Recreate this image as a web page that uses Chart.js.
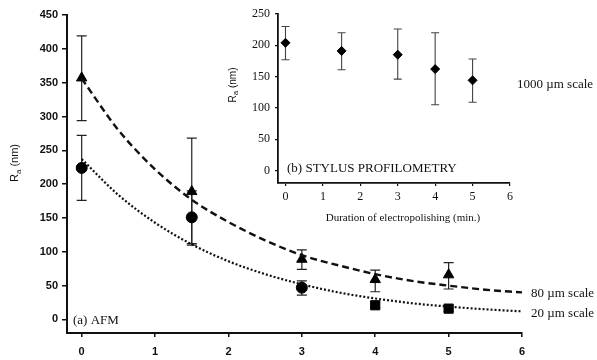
<!DOCTYPE html>
<html>
<head>
<meta charset="utf-8">
<script src="https://cdn.jsdelivr.net/npm/chart.js@4.4.0/dist/chart.umd.min.js"></script>
<style>
  body { margin: 0; background: #fff; }
  #wrap { position: relative; width: 597px; height: 360px; }
  #main { position: absolute; left: 0; top: 0; }
  #inset { position: absolute; left: 225px; top: 0; }
</style>
</head>
<body>
<div id="wrap">
  <canvas id="main" width="597" height="360"></canvas>
  <canvas id="inset" width="372" height="230"></canvas>
</div>
<script>
// (a) AFM - measured points
const afmTimes = [0, 1.5, 3, 4, 5];
const afm80 = [357, 189, 89, 59, 66];
const afm80Lo = [294, 110, 74, 41, 45];
const afm80Hi = [419, 268, 103, 73, 84];
const afm20 = [224, 151, 47, 21, 16];
const afm20Lo = [176, 112, 36, 17, 12];
const afm20Hi = [272, 190, 57, 25, 20];

// fitted curves
const fitX = [0, 0.5, 1, 1.5, 2, 2.5, 3, 3.5, 4, 4.5, 5, 5.5, 6];
const fit80 = [356, 280, 222, 177, 144, 117, 95, 80, 67, 57, 50, 44, 40];
const fit20 = [237, 184, 143, 111, 86, 67, 52, 40, 31, 24, 19, 15, 12];

// (b) stylus profilometry
const profTimes = [0, 1.5, 3, 4, 5];
const prof1000 = [204, 191, 185, 162, 144];
const profLo = [177, 161, 146, 105, 109];
const profHi = [230, 220, 226, 220, 178];

const mainXTicks = [0, 1, 2, 3, 4, 5, 6];
const mainYTicks = [0, 50, 100, 150, 200, 250, 300, 350, 400, 450];
const insetXTicks = [0, 1, 2, 3, 4, 5, 6];
const insetYTicks = [0, 50, 100, 150, 200, 250];

const pts = (xs, ys) => xs.map((x, i) => ({ x: x, y: ys[i] }));

// error bars drawn behind the markers
const errorBars = {
  id: 'errorBars',
  beforeDatasetsDraw(chart, args, opts) {
    const ctx = chart.ctx;
    const xs = chart.scales.x, ys = chart.scales.y;
    chart.data.datasets.forEach(ds => {
      if (!ds.errLo) return;
      ctx.save();
      ctx.strokeStyle = opts.color;
      ctx.lineWidth = opts.width;
      ds.data.forEach((p, i) => {
        const x = xs.getPixelForValue(p.x);
        const lo = ys.getPixelForValue(ds.errLo[i]);
        const hi = ys.getPixelForValue(ds.errHi[i]);
        ctx.beginPath();
        ctx.moveTo(x, lo); ctx.lineTo(x, hi);
        ctx.moveTo(x - opts.cap, lo); ctx.lineTo(x + opts.cap, lo);
        ctx.moveTo(x - opts.cap, hi); ctx.lineTo(x + opts.cap, hi);
        ctx.stroke();
      });
      ctx.restore();
    });
  }
};

// y-title with subscript a
function drawRa(ctx, cx, cy, size) {
  ctx.save();
  ctx.translate(cx, cy);
  ctx.rotate(-Math.PI / 2);
  ctx.fillStyle = '#111';
  ctx.textBaseline = 'middle';
  const big = size + 'px "Liberation Sans", Arial, sans-serif';
  const small = Math.round(size * 0.75) + 'px "Liberation Sans", Arial, sans-serif';
  ctx.font = big;
  const wR = ctx.measureText('R').width, wN = ctx.measureText(' (nm)').width;
  ctx.font = small;
  const wA = ctx.measureText('a').width;
  let x = -(wR + wA + wN) / 2;
  ctx.font = big; ctx.fillText('R', x, 0); x += wR;
  ctx.font = small; ctx.fillText('a', x, size * 0.3); x += wA;
  ctx.font = big; ctx.fillText(' (nm)', x, 0);
  ctx.restore();
}

const mainText = {
  id: 'mainText',
  afterDraw(chart) {
    const ctx = chart.ctx;
    const xs = chart.scales.x, ys = chart.scales.y;
    ctx.save();
    ctx.fillStyle = '#111';
    ctx.textBaseline = 'middle';
    ctx.font = '13px "Liberation Serif", "Times New Roman", serif';
    ctx.fillText('80 \u00b5m scale', xs.getPixelForValue(6) + 9, ys.getPixelForValue(fit80[fit80.length - 1]) + 1);
    ctx.fillText('20 \u00b5m scale', xs.getPixelForValue(6) + 9, ys.getPixelForValue(fit20[fit20.length - 1]) + 2);
    ctx.fillText('(a) AFM', 73, 321);
    ctx.restore();
    drawRa(ctx, 15, 163, 11);
  }
};

const insetText = {
  id: 'insetText',
  afterDraw(chart) {
    const ctx = chart.ctx;
    ctx.save();
    ctx.fillStyle = '#111';
    ctx.textBaseline = 'middle';
    ctx.font = '13px "Liberation Serif", "Times New Roman", serif';
    ctx.fillText('(b) STYLUS PROFILOMETRY', 62, 169);
    ctx.fillText('1000 \u00b5m scale', 292, 85);
    ctx.font = '11px "Liberation Serif", "Times New Roman", serif';
    ctx.textAlign = 'center';
    ctx.fillText('Duration of electropolishing (min.)', 178, 218);
    ctx.restore();
    drawRa(ctx, 8, 85, 10);
  }
};

const fixTicks = list => scale => { scale.ticks = list.map(v => ({ value: v })); };

new Chart(document.getElementById('main'), {
  type: 'scatter',
  data: {
    datasets: [
      {
        data: pts(fitX, fit80), showLine: true, pointRadius: 0,
        borderColor: '#111', borderWidth: 2.4, borderDash: [7, 4],
        cubicInterpolationMode: 'monotone'
      },
      {
        data: pts(fitX, fit20), showLine: true, pointRadius: 0,
        borderColor: '#111', borderWidth: 2.2, borderDash: [2, 2],
        cubicInterpolationMode: 'monotone'
      },
      {
        data: pts(afmTimes, afm80), errLo: afm80Lo, errHi: afm80Hi,
        pointStyle: 'triangle', pointRadius: 6,
        backgroundColor: '#000', borderColor: '#000', borderWidth: 1
      },
      {
        data: pts(afmTimes, afm20), errLo: afm20Lo, errHi: afm20Hi,
        pointStyle: ['circle', 'circle', 'circle', 'rect', 'rect'],
        pointRadius: [5.5, 5.5, 5.5, 6.5, 6.5],
        backgroundColor: '#000', borderColor: '#000', borderWidth: 1
      }
    ]
  },
  options: {
    responsive: false,
    animation: false,
    layout: { padding: { left: 0, right: 75, top: 15, bottom: 0 } },
    plugins: {
      legend: { display: false },
      tooltip: { enabled: false },
      errorBars: { color: '#222', width: 1.2, cap: 5 }
    },
    scales: {
      x: {
        type: 'linear', min: -0.2, max: 6,
        afterBuildTicks: fixTicks(mainXTicks),
        afterFit: s => { s.height = 27; },
        border: { display: true, color: '#111', width: 2 },
        grid: { drawOnChartArea: false, drawTicks: true, tickLength: 4, color: '#111', lineWidth: 1.5 },
        ticks: { color: '#111', padding: 8, maxRotation: 0, font: { family: '"Liberation Sans", Arial, sans-serif', size: 11, weight: 'bold' } }
      },
      y: {
        type: 'linear', min: -20, max: 450,
        afterBuildTicks: fixTicks(mainYTicks),
        afterFit: s => { s.width = 67; },
        border: { display: true, color: '#111', width: 2 },
        grid: { drawOnChartArea: false, drawTicks: true, tickLength: 5, color: '#111', lineWidth: 1.5 },
        ticks: { color: '#111', padding: 4, font: { family: '"Liberation Sans", Arial, sans-serif', size: 11, weight: 'bold' } }
      }
    }
  },
  plugins: [errorBars, mainText]
});

new Chart(document.getElementById('inset'), {
  type: 'scatter',
  data: {
    datasets: [
      {
        data: pts(profTimes, prof1000), errLo: profLo, errHi: profHi,
        pointStyle: 'rectRot', pointRadius: 4.5,
        backgroundColor: '#000', borderColor: '#000', borderWidth: 1
      }
    ]
  },
  options: {
    responsive: false,
    animation: false,
    layout: { padding: { left: 0, right: 87, top: 14, bottom: 0 } },
    plugins: {
      legend: { display: false },
      tooltip: { enabled: false },
      errorBars: { color: '#444', width: 1.1, cap: 4 }
    },
    scales: {
      x: {
        type: 'linear', min: -0.2, max: 6,
        afterBuildTicks: fixTicks(insetXTicks),
        afterFit: s => { s.height = 47; },
        border: { display: true, color: '#111', width: 1.8 },
        grid: { drawOnChartArea: false, drawTicks: true, tickLength: 3, color: '#111', lineWidth: 1.2 },
        ticks: { color: '#111', padding: 4, maxRotation: 0, font: { family: '"Liberation Serif", "Times New Roman", serif', size: 12 } }
      },
      y: {
        type: 'linear', min: -20, max: 250,
        afterBuildTicks: fixTicks(insetYTicks),
        afterFit: s => { s.width = 53; },
        border: { display: true, color: '#111', width: 1.8 },
        grid: { drawOnChartArea: false, drawTicks: true, tickLength: 3, color: '#111', lineWidth: 1.2 },
        ticks: { color: '#111', padding: 5, font: { family: '"Liberation Serif", "Times New Roman", serif', size: 12 } }
      }
    }
  },
  plugins: [errorBars, insetText]
});
</script>
</body>
</html>
